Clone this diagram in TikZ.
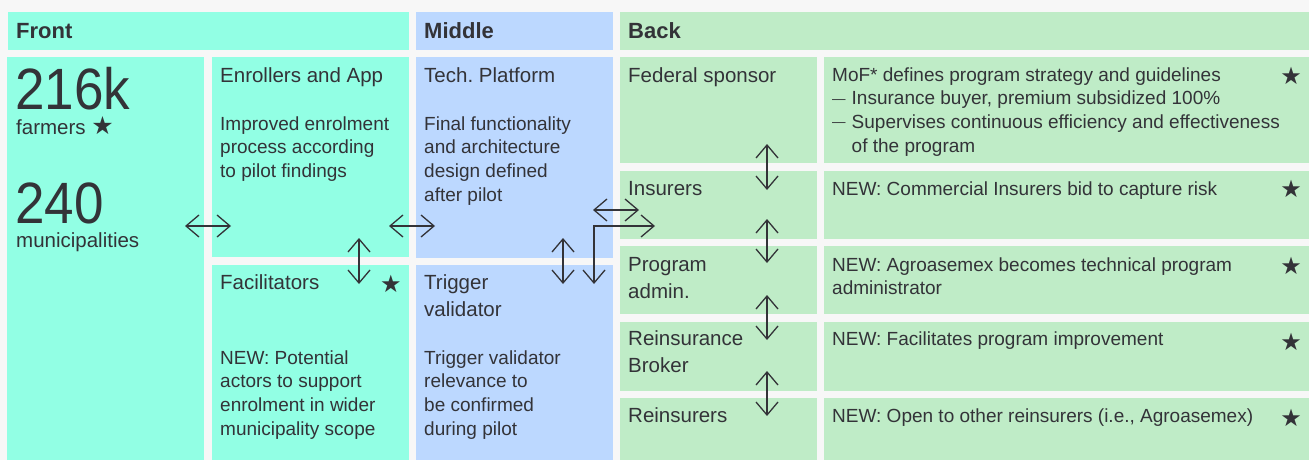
\documentclass[tikz,border=0pt]{standalone}
\usepackage{fontspec}
\setmainfont{Liberation Sans}
\newfontfamily\symfont{DejaVu Sans}
\usetikzlibrary{arrows.meta}
\frenchspacing
\definecolor{bgc}{RGB}{247,247,247}
\definecolor{frontc}{RGB}{146,255,228}
\definecolor{midc}{RGB}{188,216,255}
\definecolor{backc}{RGB}{191,236,199}
\definecolor{ink}{RGB}{51,51,56}
\newcommand{\dashlead}{\makebox[19.5pt][l]{\raisebox{1.6pt}{\fontsize{13.5}{13.5}\selectfont —}}}
\begin{document}
\begin{tikzpicture}[x=1pt,y=-1pt,
  panel/.style={draw=none,inner sep=0pt,outer sep=0pt,anchor=north west,rectangle},
  hdr/.style={anchor=base west,inner sep=0pt,text=ink,font=\bfseries\fontsize{22}{26}\selectfont},
  ttl/.style={anchor=base west,inner sep=0pt,text=ink,align=left,font=\fontsize{20.5}{27}\selectfont},
  body/.style={anchor=base west,inner sep=0pt,text=ink,align=left,font=\fontsize{19}{23.7}\selectfont},
  big/.style={anchor=base west,inner sep=0pt,text=ink,font=\fontsize{53}{60}\selectfont},
  starmark/.style={anchor=center,inner sep=0pt,text=ink,font=\symfont\fontsize{24}{24}\selectfont},
  link/.style={draw=ink,line width=1.3pt,{Straight Barb[length=13pt,width=22pt]}-{Straight Barb[length=13pt,width=22pt]}},
]
\fill[bgc] (0,0) rectangle (1309,460);
\useasboundingbox (0,0) rectangle (1309,460);

% headers
\node[panel,fill=frontc,minimum width=401pt,minimum height=38pt] (hfront) at (8,12) {};
\node[panel,fill=midc,minimum width=197pt,minimum height=38pt] (hmid) at (416,12) {};
\node[panel,fill=backc,minimum width=689pt,minimum height=38pt] (hback) at (620,12) {};
\node[hdr] (tfront) at (16,39) {Front};
\node[hdr] (tmid) at (424,39) {Middle};
\node[hdr] (tback) at (628,39) {Back};

% front
\node[panel,fill=frontc,minimum width=197pt,minimum height=403pt] (stats) at (7,57) {};
\node[panel,fill=frontc,minimum width=197pt,minimum height=200pt] (enroll) at (212,57) {};
\node[panel,fill=frontc,minimum width=197pt,minimum height=195pt] (facil) at (212,265) {};
% middle
\node[panel,fill=midc,minimum width=197pt,minimum height=201pt] (tech) at (416,57) {};
\node[panel,fill=midc,minimum width=197pt,minimum height=195pt] (trig) at (416,265) {};
% back
\node[panel,fill=backc,minimum width=197pt,minimum height=106pt] (fed) at (620,57) {};
\node[panel,fill=backc,minimum width=485pt,minimum height=106pt] (fedR) at (824,57) {};
\node[panel,fill=backc,minimum width=197pt,minimum height=68pt] (ins) at (620,171) {};
\node[panel,fill=backc,minimum width=485pt,minimum height=68pt] (insR) at (824,171) {};
\node[panel,fill=backc,minimum width=197pt,minimum height=68pt] (prog) at (620,246) {};
\node[panel,fill=backc,minimum width=485pt,minimum height=68pt] (progR) at (824,246) {};
\node[panel,fill=backc,minimum width=197pt,minimum height=69pt] (brok) at (620,322) {};
\node[panel,fill=backc,minimum width=485pt,minimum height=69pt] (brokR) at (824,322) {};
\node[panel,fill=backc,minimum width=197pt,minimum height=62pt] (reins) at (620,398) {};
\node[panel,fill=backc,minimum width=485pt,minimum height=62pt] (reinsR) at (824,398) {};

% stats text (multi-line nodes are placed by the baseline of their last line)
\node[big] (n216) at (15,110) {\scalebox{1}[1.1]{216k}};
\node[ttl] (farm) at (16,134) {farmers~{\symfont\fontsize{25}{25}\selectfont ★}};
\node[big] (n240) at (15,223) {\scalebox{1}[1.1]{240}};
\node[ttl] (muni) at (16,247) {municipalities};

% front/middle texts
\node[ttl] (enrollT) at (220,82) {Enrollers and App};
\node[body] (enrollB) at (220,177.4) {Improved enrolment\\process according\\to pilot findings};
\node[ttl] (techT) at (424,82) {Tech. Platform};
\node[body] (techB) at (424,201.1) {Final functionality\\and architecture\\design defined\\after pilot};
\node[ttl] (facilT) at (220,289) {Facilitators};
\node[body] (facilB) at (220,435.1) {NEW: Potential\\actors to support\\enrolment in wider\\municipality scope};
\node[starmark] (facilS) at (391,284) {★};
\node[ttl] (trigT) at (424,316) {Trigger\\validator};
\node[body] (trigB) at (424,435.1) {Trigger validator\\relevance to\\be confirmed\\during pilot};

% back texts
\node[ttl] (fedT) at (628,82) {Federal sponsor};
\node[body] (fedB) at (832,152.1) {MoF* defines program strategy and guidelines\\\dashlead Insurance buyer, premium subsidized 100\%\\\dashlead Supervises continuous efficiency and effectiveness\\\hspace*{19.5pt}of the program};
\node[starmark] (fedS) at (1291,76) {★};
\node[ttl] (insT) at (628,195) {Insurers};
\node[body] (insB) at (832,195) {NEW: Commercial Insurers bid to capture risk};
\node[starmark] (insS) at (1291,189) {★};
\node[ttl] (progT) at (628,298) {Program\\admin.};
\node[body] (progB) at (832,294.7) {NEW: Agroasemex becomes technical program\\administrator};
\node[starmark] (progS) at (1291,266) {★};
\node[ttl] (brokT) at (628,372) {Reinsurance\\Broker};
\node[body] (brokB) at (832,345) {NEW: Facilitates program improvement};
\node[starmark] (brokS) at (1291,342) {★};
\node[ttl] (reinsT) at (628,422) {Reinsurers};
\node[body] (reinsB) at (832,422) {NEW: Open to other reinsurers (i.e., Agroasemex)};
\node[starmark] (reinsS) at (1291,418) {★};

% arrow end points
\coordinate (a1s) at (185,226); \coordinate (a1e) at (231,226);
\coordinate (a2s) at (389,226); \coordinate (a2e) at (435,226);
\coordinate (a3s) at (359,238); \coordinate (a3e) at (359,284);
\coordinate (a4s) at (563,238); \coordinate (a4e) at (563,284);
\coordinate (a5s) at (655,226); \coordinate (a5e) at (594,284);
\coordinate (a6s) at (593,210); \coordinate (a6e) at (639,210);
\coordinate (b1s) at (767,144); \coordinate (b1e) at (767,190);
\coordinate (b2s) at (767,219); \coordinate (b2e) at (767,263);
\coordinate (b3s) at (767,295); \coordinate (b3e) at (767,340);
\coordinate (b4s) at (767,371); \coordinate (b4e) at (767,416);

\draw[link] (a1s) -- (a1e);
\draw[link] (a2s) -- (a2e);
\draw[link] (a3s) -- (a3e);
\draw[link] (a4s) -- (a4e);
\draw[link] (a5s) -| (a5e);
\draw[link] (a6s) -- (a6e);
\draw[link] (b1s) -- (b1e);
\draw[link] (b2s) -- (b2e);
\draw[link] (b3s) -- (b3e);
\draw[link] (b4s) -- (b4e);
\end{tikzpicture}
\end{document}
